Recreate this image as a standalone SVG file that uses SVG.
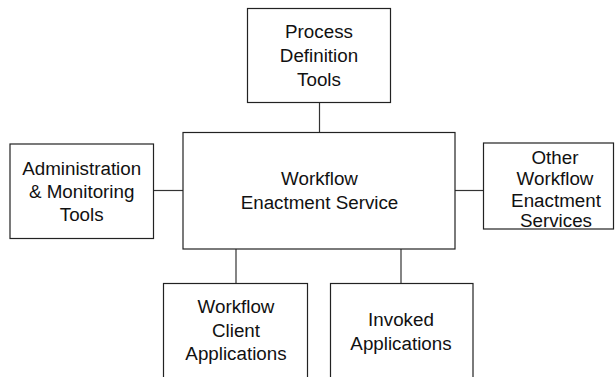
<svg xmlns="http://www.w3.org/2000/svg" width="616" height="377" viewBox="0 0 616 377">
  <style>
    .box { fill: #ffffff; stroke: #222222; stroke-width: 1.2; }
    .link { stroke: #333333; stroke-width: 1.2; fill: none; }
    .label { font-family: "Liberation Sans", Arial, sans-serif; font-size: 18.8px; fill: #111111; text-anchor: middle; }
  </style>
  <rect x="0" y="0" width="616" height="377" fill="#ffffff"/>

  <!-- connectors -->
  <g id="connectors">
    <line class="link" x1="319.5" y1="102.5" x2="319.5" y2="132.5"/>
    <line class="link" x1="153.5" y1="190.5" x2="183" y2="190.5"/>
    <line class="link" x1="455" y1="190.5" x2="483.5" y2="190.5"/>
    <line class="link" x1="236" y1="249" x2="236" y2="283.5"/>
    <line class="link" x1="401" y1="249" x2="401" y2="283.5"/>
  </g>

  <g id="process-definition-tools">
    <rect class="box" x="247.5" y="8.5" width="143" height="94"/>
    <text class="label" x="319" y="37.5">Process</text>
    <text class="label" x="319" y="62">Definition</text>
    <text class="label" x="319" y="85.5">Tools</text>
  </g>

  <g id="workflow-enactment-service">
    <rect class="box" x="183" y="132.5" width="272" height="116.5"/>
    <text class="label" x="319.5" y="184.5">Workflow</text>
    <text class="label" x="319.5" y="208.5">Enactment Service</text>
  </g>

  <g id="administration-monitoring-tools">
    <rect class="box" x="10" y="144" width="143.5" height="94.5"/>
    <text class="label" x="81.7" y="175">Administration</text>
    <text class="label" x="81.7" y="198">&amp; Monitoring</text>
    <text class="label" x="81.7" y="221">Tools</text>
  </g>

  <g id="other-workflow-enactment-services">
    <rect class="box" x="483.5" y="143" width="130" height="86"/>
    <text class="label" x="555" y="163.5">Other</text>
    <text class="label" x="555" y="185.2">Workflow</text>
    <text class="label" x="556" y="207">Enactment</text>
    <text class="label" x="556" y="227">Services</text>
  </g>

  <g id="workflow-client-applications">
    <rect class="box" x="163.5" y="283.5" width="144" height="110"/>
    <text class="label" x="236" y="313">Workflow</text>
    <text class="label" x="236" y="337">Client</text>
    <text class="label" x="236" y="360">Applications</text>
  </g>

  <g id="invoked-applications">
    <rect class="box" x="330.5" y="283.5" width="142.5" height="110"/>
    <text class="label" x="401" y="325.5">Invoked</text>
    <text class="label" x="401" y="349.5">Applications</text>
  </g>
</svg>
